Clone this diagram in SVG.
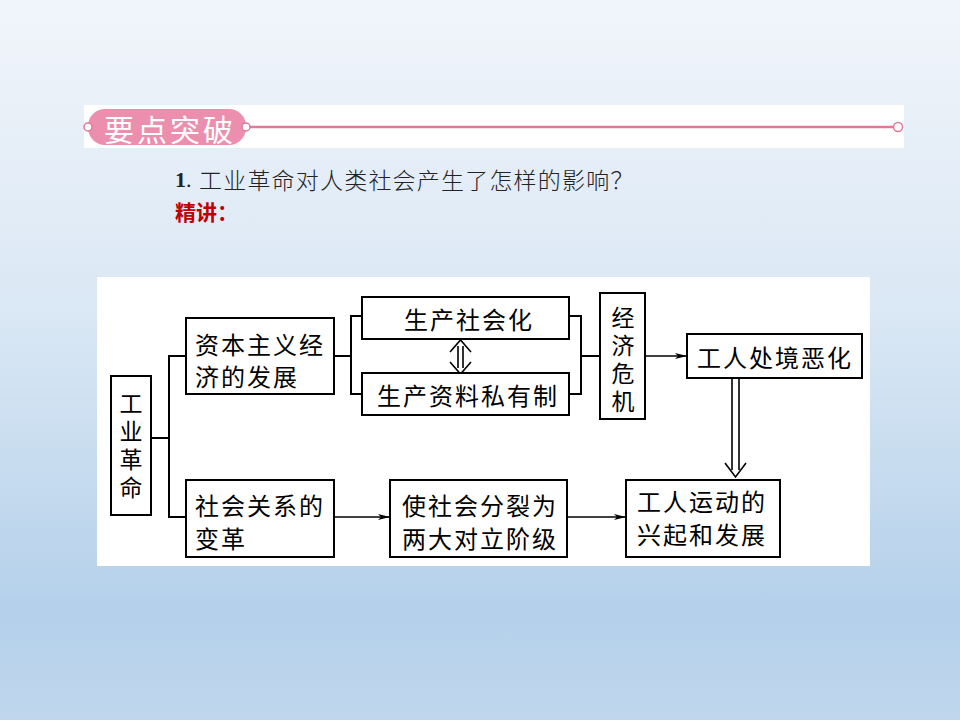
<svg xmlns="http://www.w3.org/2000/svg" width="960" height="720" viewBox="0 0 960 720">
  <defs>
    <linearGradient id="bg" x1="0" y1="0" x2="0" y2="1">
      <stop offset="0" stop-color="#f1f5fb"/>
      <stop offset="0.45" stop-color="#d9e7f4"/>
      <stop offset="0.85" stop-color="#b4d0ea"/>
      <stop offset="1" stop-color="#c0d7ed"/>
    </linearGradient>
    <marker id="arr" viewBox="0 0 12 8" refX="12" refY="4" markerWidth="12" markerHeight="8" markerUnits="userSpaceOnUse" orient="auto">
      <path d="M0,1 L12,4 L0,7 L3,4 Z" fill="#000"/>
    </marker>
    <style>
      .box { fill: #fff; stroke: #000; stroke-width: 2; }
      .t { font-family: "Noto Sans CJK SC", "Noto Sans", sans-serif; font-size: 24px; fill: #000; letter-spacing: 2px; dominant-baseline: central; }
      .v { font-family: "Noto Sans CJK SC", "Noto Sans", sans-serif; font-size: 23px; fill: #000; writing-mode: vertical-rl; letter-spacing: 5px; dominant-baseline: central; }
      .c { fill: none; stroke: #000; stroke-width: 2; }
      .a { fill: none; stroke: #000; stroke-width: 1.6; }
    </style>
  </defs>

  <rect x="0" y="0" width="960" height="720" fill="url(#bg)"/>

  <!-- header band -->
  <g id="header">
    <rect x="84" y="105" width="820" height="43" fill="#ffffff"/>
    <line x1="247" y1="127" x2="894" y2="127" stroke="#e07898" stroke-width="2.5"/>
    <rect x="88" y="109" width="158" height="36" rx="17" fill="#ec8fae"/>
    <circle cx="88" cy="127" r="4" fill="#fff" stroke="#e07898" stroke-width="1.5"/>
    <circle cx="246" cy="127" r="4" fill="#fff" stroke="#e07898" stroke-width="1.5"/>
    <circle cx="898" cy="127" r="4.5" fill="#fff" stroke="#e07898" stroke-width="1.5"/>
    <text x="104" y="128" font-family="Noto Sans CJK SC, sans-serif" font-size="30" fill="#fff" letter-spacing="3" dominant-baseline="central">要点突破</text>
  </g>

  <g id="question">
    <text x="175" y="179" font-size="22" dominant-baseline="central" fill="#222" font-family="Liberation Serif, serif"><tspan font-weight="bold">1</tspan>.</text>
    <text x="199" y="179" font-size="23" dominant-baseline="central" fill="#222" font-family="Noto Sans CJK SC, sans-serif" font-weight="300" letter-spacing="1.2">工业革命对人类社会产生了怎样的影响？</text>
    <text x="175" y="211" font-family="Noto Sans CJK SC, sans-serif" font-size="21" font-weight="bold" fill="#c00000" dominant-baseline="central">精讲：</text>
  </g>

  <!-- white panel -->
  <rect x="97" y="277" width="773" height="289" fill="#ffffff"/>

  <!-- connectors -->
  <g id="connectors">
    <polyline class="c" points="151,438 169,438"/>
    <polyline class="c" points="186,356 169,356 169,517 186,517"/>
    <polyline class="c" points="334,356 351,356"/>
    <polyline class="c" points="362,316 351,316 351,394 362,394"/>
    <polyline class="c" points="569,316 581,316 581,394 569,394"/>
    <polyline class="c" points="581,356 600,356"/>
    <line class="a" x1="645" y1="356" x2="687" y2="356" marker-end="url(#arr)"/>
    <line class="a" x1="334" y1="517" x2="390" y2="517" marker-end="url(#arr)"/>
    <line class="a" x1="567" y1="517" x2="626" y2="517" marker-end="url(#arr)"/>
    <path class="a" d="M458,346 L458,368 M463,346 L463,368 M450,352 L460.5,340 L471,352 M450,362 L460.5,374 L471,362"/>
    <path class="a" d="M732,378 L732,470 M739,378 L739,470 M725,463 L735.5,477 L746,463"/>
  </g>

  <!-- nodes -->
  <g id="n-gongye">
    <rect class="box" x="111" y="376" width="40" height="139"/>
    <text class="v" x="131" y="392">工业革命</text>
  </g>
  <g id="n-ziben">
    <rect class="box" x="186" y="318" width="148" height="76"/>
    <text class="t" x="195" y="343">资本主义经</text>
    <text class="t" x="195" y="375">济的发展</text>
  </g>
  <g id="n-shehuihua">
    <rect class="box" x="362" y="297" width="207" height="42"/>
    <text class="t" x="404" y="318">生产社会化</text>
  </g>
  <g id="n-siyou">
    <rect class="box" x="362" y="373" width="207" height="42"/>
    <text class="t" x="377" y="394">生产资料私有制</text>
  </g>
  <g id="n-weiji">
    <rect class="box" x="600" y="293" width="45" height="126"/>
    <text class="v" x="623" y="306">经济危机</text>
  </g>
  <g id="n-chujing">
    <rect class="box" x="687" y="334" width="175" height="44"/>
    <text class="t" x="697" y="356">工人处境恶化</text>
  </g>
  <g id="n-guanxi">
    <rect class="box" x="186" y="480" width="148" height="77"/>
    <text class="t" x="195" y="504">社会关系的</text>
    <text class="t" x="195" y="537">变革</text>
  </g>
  <g id="n-fenlie">
    <rect class="box" x="390" y="480" width="177" height="77"/>
    <text class="t" x="402" y="504">使社会分裂为</text>
    <text class="t" x="402" y="537">两大对立阶级</text>
  </g>
  <g id="n-yundong">
    <rect class="box" x="626" y="480" width="154" height="77"/>
    <text class="t" x="637" y="500">工人运动的</text>
    <text class="t" x="637" y="533">兴起和发展</text>
  </g>
</svg>
